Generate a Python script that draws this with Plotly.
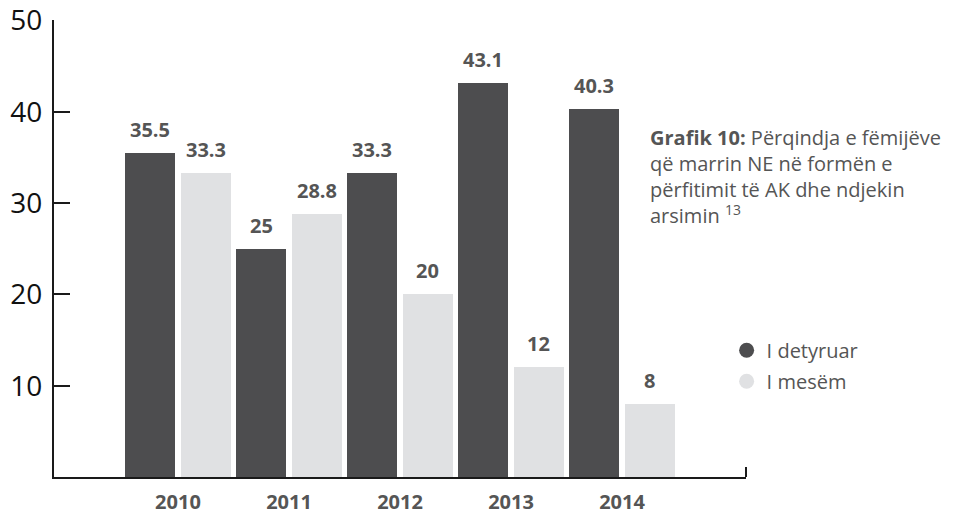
import plotly.graph_objects as go

# Data
years = ["2010", "2011", "2012", "2013", "2014"]
i_detyruar = [35.5, 25, 33.3, 43.1, 40.3]
i_mesem = [33.3, 28.8, 20, 12, 8]
series_names = ["I detyruar", "I mesëm"]
y_ticks = [10, 20, 30, 40, 50]

DARK = "#4d4d4f"
LIGHT = "#e0e1e3"
TEXT_GREY = "#555555"
FONT = "Open Sans"
BAR_W = 0.45
OFFSETS = [-0.475, 0.025]

fig = go.Figure()

for vals, color, offset in zip([i_detyruar, i_mesem], [DARK, LIGHT], OFFSETS):
    xs = list(range(len(years)))
    fig.add_trace(go.Bar(
        x=xs, y=vals, width=BAR_W, offset=offset,
        marker=dict(color=color, line=dict(width=0)),
        showlegend=False, hoverinfo="skip",
    ))
    # value labels above each bar
    for x, v in zip(xs, vals):
        fig.add_annotation(
            x=x + offset + BAR_W / 2, y=v, xref="x", yref="y",
            text=f"<b>{v:g}</b>", showarrow=False,
            yanchor="bottom", yshift=8,
            font=dict(family=FONT, size=20, color=TEXT_GREY),
        )

# Circle markers for the legend
for name, color in zip(series_names, [DARK, LIGHT]):
    fig.add_trace(go.Scatter(
        x=[None], y=[None], mode="markers", name=name, legendgroup=name,
        marker=dict(symbol="circle", size=15, color=color),
    ))

Y_MAX = 50.05
fig.update_layout(
    width=965, height=515,
    margin=dict(l=54, r=219, t=20, b=38),
    paper_bgcolor="white", plot_bgcolor="white",
    font=dict(family=FONT, color=TEXT_GREY),
    bargap=0,
    legend=dict(
        x=0.972, y=0.32, xanchor="left", yanchor="top",
        font=dict(family=FONT, size=20, color=TEXT_GREY),
        bgcolor="rgba(0,0,0,0)", itemwidth=30, tracegroupgap=2,
    ),
    xaxis=dict(
        range=[-1.117, 5.117],
        tickmode="array", tickvals=list(range(len(years))), ticktext=years,
        tickfont=dict(family=FONT, size=20, color=TEXT_GREY, weight="bold"),
        showline=True, linecolor="#1a1a1a", linewidth=2,
        showgrid=False, zeroline=False, ticks="", ticklabelstandoff=6,
        automargin=False,
    ),
    yaxis=dict(
        range=[0, Y_MAX],
        tickmode="array", tickvals=y_ticks, ticktext=[str(t) for t in y_ticks],
        tickfont=dict(family=FONT, size=28, color="#111111"),
        showline=True, linecolor="#1a1a1a", linewidth=2,
        ticks="inside", ticklen=16, tickwidth=2, tickcolor="#1a1a1a",
        showgrid=False, zeroline=False, ticklabelstandoff=4,
        ticklabeloverflow="allow", automargin=False,
    ),
)

# Small upright tick at the right end of the category axis
fig.add_shape(type="line", xref="paper", yref="y", x0=1, x1=1, y0=0, y1=1.1,
              line=dict(color="#1a1a1a", width=2))

# Caption block to the right of the bars
caption = ("<b>Grafik 10:</b> Përqindja e fëmijëve<br>që marrin NE në formën e"
           "<br>përfitimit të AK dhe ndjekin<br>arsimin <sup>13</sup>")
fig.add_annotation(
    xref="paper", yref="y", x=0.858, y=32.95,
    xanchor="left", yanchor="middle", align="left", showarrow=False,
    text=caption, font=dict(family=FONT, size=20, color=TEXT_GREY),
)

fig.write_html("out.html")
